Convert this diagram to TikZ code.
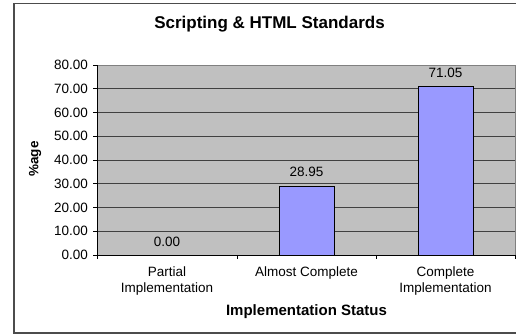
\documentclass[tikz,border=0pt]{standalone}
\usepackage{fontspec}
\setmainfont{Liberation Sans}
\begin{document}
\begin{tikzpicture}[x=1pt,y=-1pt,
  lbl/.style={inner sep=0pt,font=\fontsize{13.5}{16}\selectfont},
  bar/.style={draw=black,line width=0.8pt,fill=barblue},
  grid/.style={draw=black!75,line width=0.8pt}]
\definecolor{barblue}{HTML}{9999FF}
\definecolor{plotgray}{HTML}{C0C0C0}
\useasboundingbox (0,0) rectangle (516,335);
\begin{scope}
\clip (0,0) rectangle (516,335);
\draw[line width=1.5pt,draw=black!70] (14,3.5) rectangle (530,333);
\end{scope}
% plot area
\fill[plotgray] (97,65) rectangle (515,255);
\draw[draw=black!50,line width=0.8pt] (97,65) -- (515,65) -- (515,255);
\foreach \v in {10,20,...,70}{
  \draw[grid] (97,{255-2.375*\v}) -- (515,{255-2.375*\v});
}
% axes
\draw[black,line width=0.8pt] (97,65) -- (97,255) -- (515,255);
\foreach \v in {0,10,...,80}{
  \draw[black,line width=0.8pt] (93,{255-2.375*\v}) -- (97,{255-2.375*\v});
  \node[lbl,anchor=east] (t\v) at (88,{255-2.375*\v}) {\v.00};
}
\foreach \x in {97,237,376,515}{
  \draw[black,line width=0.8pt] (\x,255) -- (\x,259);
}
% bars
\draw[bar] (279,255) rectangle (334,{255-2.375*28.95});
\draw[bar] (418,255) rectangle (473,{255-2.375*71.05});
% value labels
\node[lbl] (v1) at (167,242) {0.00};
\node[lbl] (v2) at (306.5,172) {28.95};
\node[lbl] (v3) at (445.5,73) {71.05};
% category labels
\node[lbl,align=center] (c1) at (167,281.5) {Partial\\Implementation};
\node[lbl] (c2) at (306.5,273) {Almost Complete};
\node[lbl,align=center] (c3) at (445.5,281.5) {Complete\\Implementation};
% titles
\node[inner sep=0pt,font=\fontsize{17}{20}\selectfont\bfseries] (title) at (269.5,24) {Scripting \& HTML Standards};
\node[inner sep=0pt,font=\fontsize{15}{18}\selectfont\bfseries] (xt) at (306.5,312) {Implementation Status};
\node[inner sep=0pt,rotate=90,font=\fontsize{13.5}{16}\selectfont\bfseries] (yt) at (35,159) {\%age};
\end{tikzpicture}
\end{document}
